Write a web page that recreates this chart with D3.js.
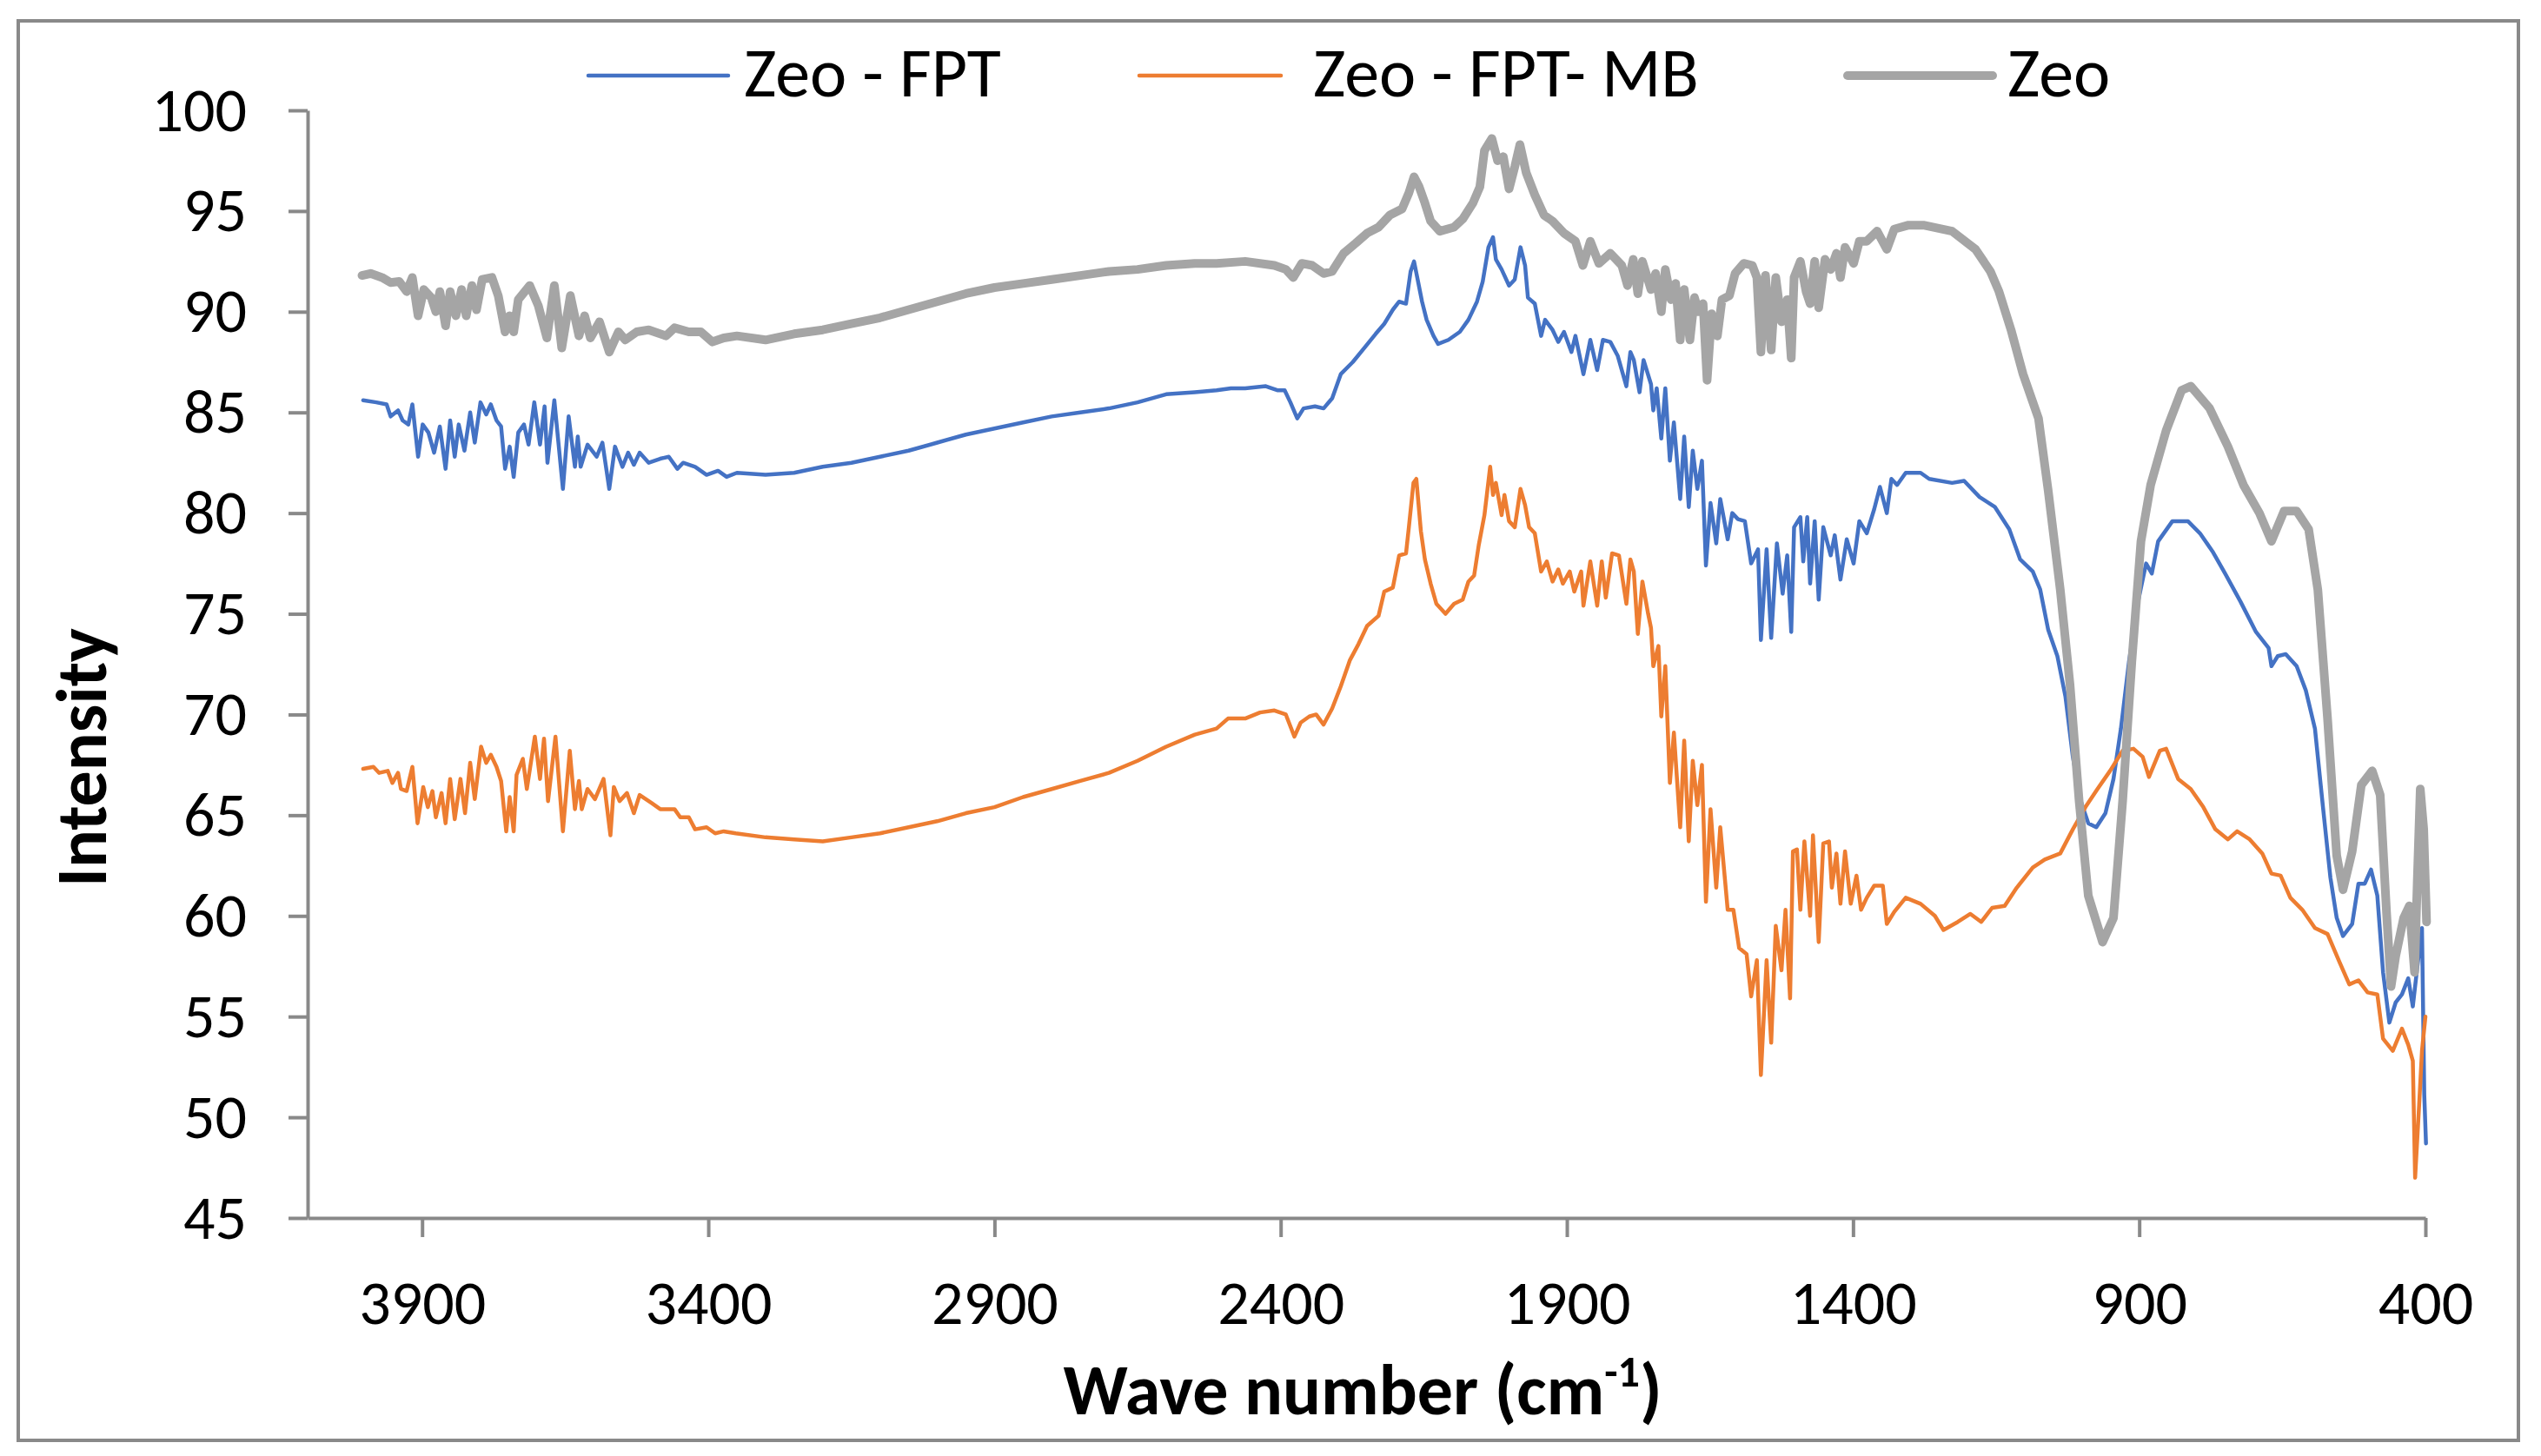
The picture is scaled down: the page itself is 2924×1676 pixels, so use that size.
<!DOCTYPE html>
<html>
<head>
<meta charset="utf-8">
<script src="https://d3js.org/d3.v7.min.js"></script>
<style>
	body { margin: 0; background: #fff; }
	text { font-family: Carlito, Calibri, Lato, sans-serif; fill: #000; }
</style>
</head>
<body>
<svg id="chart" width="2924" height="1676"></svg>
<script>
"use strict";

// Data: [wave number, intensity]

const zeoFpt = [
	[4003,85.6],[3980,85.5],[3962,85.4],[3955,84.8],[3942,85.1],[3934,84.6],[3924,84.4],[3917,85.4],[3907,82.8],[3899,84.4],
	[3889,84.0],[3879,83.0],[3869,84.3],[3859,82.2],[3851,84.6],[3843,82.8],[3836,84.4],[3826,83.1],[3816,85.0],[3808,83.5],
	[3798,85.5],[3788,84.9],[3780,85.4],[3770,84.6],[3762,84.3],[3755,82.2],[3747,83.3],[3740,81.8],[3732,84.0],[3722,84.4],
	[3714,83.4],[3704,85.5],[3694,83.4],[3686,85.3],[3681,82.5],[3669,85.6],[3654,81.2],[3644,84.8],[3633,82.3],[3628,83.8],
	[3623,82.3],[3611,83.4],[3595,82.8],[3585,83.5],[3573,81.2],[3563,83.3],[3550,82.3],[3540,83.0],[3530,82.4],[3520,83.0],
	[3504,82.5],[3484,82.7],[3469,82.8],[3454,82.2],[3444,82.5],[3423,82.3],[3403,81.9],[3383,82.1],[3368,81.8],[3350,82.0],
	[3300,81.9],[3250,82.0],[3200,82.3],[3150,82.5],[3100,82.8],[3050,83.1],[3000,83.5],[2950,83.9],[2900,84.2],[2850,84.5],
	[2800,84.8],[2750,85.0],[2700,85.2],[2650,85.5],[2600,85.9],[2550,86.0],[2512,86.1],[2487,86.2],[2462,86.2],[2426,86.3],
	[2406,86.1],[2393,86.1],[2383,85.5],[2371,84.7],[2360,85.2],[2340,85.3],[2325,85.2],[2310,85.7],[2295,86.9],[2274,87.5],
	[2254,88.2],[2234,88.9],[2219,89.4],[2204,90.1],[2193,90.5],[2181,90.4],[2173,92.0],[2167,92.5],[2160,91.5],[2153,90.5],
	[2145,89.6],[2133,88.8],[2125,88.4],[2107,88.6],[2087,89.0],[2072,89.6],[2057,90.5],[2047,91.5],[2037,93.2],[2029,93.7],
	[2024,92.6],[2014,92.1],[2001,91.3],[1991,91.6],[1981,93.2],[1973,92.3],[1968,90.7],[1956,90.4],[1945,88.8],[1938,89.6],
	[1925,89.1],[1915,88.5],[1905,89.0],[1892,88.0],[1885,88.8],[1871,86.9],[1859,88.6],[1847,87.1],[1837,88.6],[1824,88.5],
	[1811,87.8],[1796,86.3],[1789,88.0],[1783,87.6],[1773,86.0],[1766,87.6],[1753,86.4],[1749,85.1],[1743,86.2],[1735,83.7],
	[1728,86.2],[1720,82.6],[1713,84.5],[1702,80.7],[1695,83.8],[1687,80.3],[1680,83.1],[1672,81.2],[1664,82.6],[1657,77.4],
	[1649,80.5],[1639,78.5],[1632,80.7],[1619,78.7],[1611,80.0],[1601,79.7],[1589,79.6],[1578,77.5],[1566,78.2],[1561,73.7],
	[1551,78.2],[1543,73.8],[1533,78.5],[1523,76.0],[1515,77.9],[1508,74.1],[1503,79.3],[1492,79.8],[1487,77.6],[1480,79.8],
	[1475,76.5],[1467,79.6],[1460,75.7],[1452,79.3],[1439,77.9],[1432,78.9],[1422,76.7],[1411,78.7],[1399,77.5],[1389,79.6],
	[1376,79.0],[1363,80.2],[1353,81.3],[1341,80.0],[1333,81.7],[1323,81.4],[1308,82.0],[1282,82.0],[1267,81.7],[1227,81.5],
	[1206,81.6],[1179,80.8],[1152,80.3],[1127,79.2],[1108,77.7],[1086,77.1],[1073,76.2],[1059,74.2],[1043,72.9],[1029,70.9],
	[1016,67.9],[1002,65.7],[989,64.6],[975,64.4],[959,65.1],[945,66.8],[932,69.3],[918,72.6],[902,75.6],[888,77.5],
	[878,77.0],[867,78.6],[842,79.6],[815,79.6],[794,79.0],[772,78.1],[750,77.0],[723,75.6],[696,74.1],[674,73.3],
	[669,72.4],[658,72.9],[644,73.0],[625,72.4],[609,71.2],[593,69.3],[579,65.4],[566,61.9],[555,59.9],[544,59.0],
	[528,59.6],[517,61.6],[506,61.6],[495,62.3],[484,61.0],[474,57.2],[463,54.7],[452,55.7],[441,56.1],[430,56.9],
	[422,55.5],[414,57.5],[406,59.4],[402,51.1],[399,48.7]
];

const zeoFptMb = [
	[4003,67.3],[3985,67.4],[3975,67.1],[3960,67.2],[3952,66.6],[3942,67.1],[3937,66.3],[3927,66.2],[3917,67.4],[3908,64.6],
	[3898,66.4],[3890,65.4],[3882,66.2],[3876,64.9],[3866,66.1],[3859,64.6],[3851,66.8],[3843,64.8],[3833,66.8],[3825,65.1],
	[3816,67.6],[3808,65.8],[3797,68.4],[3788,67.6],[3780,68.0],[3770,67.4],[3762,66.7],[3753,64.2],[3747,65.9],[3740,64.2],
	[3735,67.0],[3724,67.8],[3717,66.3],[3703,68.9],[3694,66.8],[3687,68.8],[3680,65.7],[3667,68.9],[3654,64.2],[3642,68.2],
	[3633,65.3],[3626,66.7],[3621,65.3],[3611,66.3],[3598,65.8],[3583,66.8],[3571,64.0],[3565,66.4],[3555,65.7],[3542,66.1],
	[3530,65.1],[3520,66.0],[3499,65.6],[3484,65.3],[3459,65.3],[3449,64.9],[3434,64.9],[3423,64.3],[3403,64.4],[3388,64.1],
	[3373,64.2],[3352,64.1],[3300,63.9],[3250,63.8],[3200,63.7],[3150,63.9],[3100,64.1],[3050,64.4],[3000,64.7],[2950,65.1],
	[2900,65.4],[2850,65.9],[2800,66.3],[2750,66.7],[2700,67.1],[2650,67.7],[2600,68.4],[2550,69.0],[2512,69.3],[2492,69.8],
	[2462,69.8],[2436,70.1],[2411,70.2],[2391,70.0],[2376,68.9],[2365,69.6],[2350,69.9],[2338,70.0],[2325,69.5],[2310,70.3],
	[2295,71.4],[2279,72.7],[2264,73.5],[2249,74.4],[2229,74.9],[2219,76.1],[2204,76.3],[2193,77.9],[2181,78.0],[2176,79.3],
	[2168,81.5],[2163,81.7],[2155,79.1],[2148,77.7],[2138,76.5],[2128,75.5],[2112,75.0],[2097,75.5],[2082,75.7],[2072,76.6],
	[2062,76.9],[2054,78.4],[2044,79.9],[2034,82.3],[2029,80.9],[2024,81.5],[2014,79.9],[2009,80.9],[2001,79.6],[1991,79.3],
	[1981,81.2],[1973,80.4],[1966,79.3],[1956,79.0],[1945,77.1],[1935,77.6],[1925,76.6],[1915,77.2],[1907,76.5],[1895,77.1],
	[1887,76.1],[1875,77.1],[1871,75.4],[1859,77.6],[1847,75.4],[1839,77.6],[1832,75.8],[1821,78.0],[1809,77.9],[1796,75.5],
	[1789,77.7],[1783,77.1],[1776,74.0],[1768,76.6],[1758,75.0],[1753,74.3],[1749,72.4],[1740,73.4],[1735,69.9],[1728,72.4],
	[1720,66.6],[1713,69.1],[1702,64.4],[1695,68.7],[1687,63.7],[1680,67.7],[1672,65.5],[1664,67.5],[1657,60.7],[1649,65.3],
	[1639,61.4],[1632,64.4],[1619,60.3],[1609,60.3],[1599,58.4],[1586,58.1],[1578,56.0],[1568,57.8],[1561,52.1],[1551,57.8],
	[1543,53.7],[1535,59.5],[1525,57.3],[1518,60.3],[1510,55.9],[1505,63.2],[1498,63.3],[1492,60.3],[1485,63.7],[1475,60.0],
	[1470,64.0],[1460,58.7],[1452,63.6],[1442,63.7],[1437,61.4],[1429,63.1],[1422,60.6],[1414,63.2],[1404,60.6],[1394,62.0],
	[1386,60.3],[1376,60.9],[1363,61.5],[1348,61.5],[1341,59.6],[1328,60.2],[1308,60.9],[1282,60.6],[1257,60.0],[1242,59.3],
	[1217,59.7],[1195,60.1],[1176,59.7],[1157,60.4],[1135,60.5],[1114,61.4],[1086,62.4],[1065,62.8],[1038,63.1],[1016,64.3],
	[994,65.4],[973,66.3],[951,67.2],[929,68.2],[910,68.3],[894,67.9],[883,66.9],[864,68.2],[853,68.3],[832,66.8],
	[810,66.3],[788,65.4],[767,64.3],[745,63.8],[729,64.2],[707,63.8],[685,63.1],[669,62.1],[653,62.0],[636,60.9],
	[615,60.3],[593,59.4],[571,59.1],[550,57.7],[533,56.6],[517,56.8],[501,56.2],[484,56.1],[474,53.9],[457,53.3],
	[441,54.4],[430,53.6],[422,52.8],[418,47.0],[411,50.6],[406,53.3],[400,55.0]
];

const zeo = [
	[4005,91.8],[3990,91.9],[3970,91.7],[3955,91.45],[3940,91.5],[3927,91.0],[3917,91.7],[3907,89.8],[3897,91.1],[3884,90.7],
	[3876,90.0],[3869,91.0],[3859,89.3],[3851,91.0],[3841,89.8],[3831,91.1],[3823,89.8],[3813,91.3],[3805,90.1],[3795,91.6],
	[3778,91.7],[3767,90.8],[3755,89.0],[3747,89.8],[3740,89.0],[3732,90.6],[3712,91.3],[3697,90.3],[3682,88.7],[3669,91.3],
	[3656,88.2],[3641,90.8],[3626,88.8],[3616,89.8],[3606,88.7],[3590,89.5],[3573,88.0],[3557,89.0],[3545,88.6],[3525,89.0],
	[3504,89.1],[3474,88.8],[3459,89.2],[3434,89.0],[3413,89.0],[3393,88.5],[3373,88.7],[3350,88.8],[3300,88.6],[3250,88.9],
	[3200,89.1],[3150,89.4],[3100,89.7],[3050,90.1],[3000,90.5],[2950,90.9],[2900,91.2],[2850,91.4],[2800,91.6],[2750,91.8],
	[2700,92.0],[2650,92.1],[2600,92.3],[2550,92.4],[2512,92.4],[2462,92.5],[2411,92.3],[2391,92.1],[2378,91.7],[2363,92.4],
	[2345,92.3],[2325,91.9],[2310,92.0],[2290,92.9],[2269,93.4],[2249,93.9],[2229,94.2],[2209,94.8],[2188,95.1],[2176,95.9],
	[2167,96.7],[2158,96.2],[2148,95.4],[2138,94.5],[2122,94.0],[2097,94.2],[2082,94.6],[2064,95.4],[2052,96.2],[2044,98.0],
	[2031,98.6],[2021,97.5],[2011,97.7],[2001,96.1],[1991,97.2],[1982,98.3],[1971,96.9],[1956,95.8],[1940,94.8],[1925,94.5],
	[1905,93.9],[1885,93.5],[1872,92.3],[1859,93.5],[1844,92.4],[1824,92.9],[1804,92.3],[1794,91.3],[1784,92.6],[1776,90.9],
	[1768,92.5],[1753,91.1],[1745,91.9],[1735,90.0],[1728,92.1],[1718,90.6],[1710,91.4],[1702,88.6],[1695,91.1],[1685,88.6],
	[1677,90.7],[1670,90.0],[1662,90.4],[1655,86.6],[1647,89.9],[1637,88.8],[1629,90.6],[1616,90.8],[1606,91.9],[1591,92.4],
	[1576,92.3],[1568,91.7],[1561,88.0],[1553,91.8],[1543,88.1],[1535,91.7],[1525,89.5],[1515,90.6],[1508,87.7],[1503,91.7],
	[1492,92.5],[1482,91.0],[1475,90.4],[1467,92.5],[1460,90.2],[1449,92.6],[1439,92.1],[1429,92.9],[1422,91.7],[1414,93.2],
	[1399,92.4],[1389,93.5],[1376,93.5],[1358,94.0],[1341,93.1],[1328,94.1],[1303,94.3],[1277,94.3],[1227,94.0],[1186,93.1],
	[1160,92.0],[1145,91.0],[1124,89.1],[1103,86.9],[1076,84.7],[1059,81.1],[1038,76.2],[1021,71.5],[1005,65.7],[989,61.0],
	[964,58.7],[945,59.9],[929,65.7],[913,72.6],[897,78.6],[880,81.4],[853,84.1],[826,86.1],[810,86.3],[777,85.2],
	[745,83.3],[718,81.4],[690,80.0],[669,78.6],[647,80.1],[625,80.1],[604,79.2],[588,76.2],[571,69.8],[555,63.0],
	[544,61.3],[528,63.2],[512,66.5],[493,67.2],[479,66.0],[468,60.2],[460,56.5],[452,58.0],[438,59.9],[428,60.5],
	[419,57.2],[414,61.9],[409,66.3],[403,64.3],[398,59.7]
];

const seriesNames = ["Zeo - FPT", "Zeo - FPT- MB", "Zeo"];
const seriesColors = ["#4472C4", "#ED7D31", "#A5A5A5"];
const seriesWidths = [4.5, 4.5, 10];
const xTicks = [3900, 3400, 2900, 2400, 1900, 1400, 900, 400];
const yTicks = [45, 50, 55, 60, 65, 70, 75, 80, 85, 90, 95, 100];

// Layout

const svg = d3.select("#chart");
const axisColor = "#898989";

const plot = { left: 354, right: 2791, top: 127, bottom: 1402 };

const x = d3.scaleLinear().domain([4100, 400]).range([plot.left, plot.right]);
const y = d3.scaleLinear().domain([45, 100]).range([plot.bottom, plot.top]);

// chart border
svg.append("rect")
	.attr("x", 21)
	.attr("y", 24)
	.attr("width", 2877)
	.attr("height", 1634)
	.attr("fill", "#fff")
	.attr("stroke", axisColor)
	.attr("stroke-width", 4);

// Series lines (Zeo drawn last, on top)
const line = d3.line()
	.x(function(d) { return x(d[0]); })
	.y(function(d) { return y(d[1]); });

[zeoFpt, zeoFptMb, zeo].forEach(function(data, i) {
	svg.append("path")
		.datum(data)
		.attr("d", line)
		.attr("fill", "none")
		.attr("stroke", seriesColors[i])
		.attr("stroke-width", seriesWidths[i])
		.attr("stroke-linejoin", "round")
		.attr("stroke-linecap", "round");
});

// Axes
const yAxis = svg.append("g")
	.attr("transform", "translate(" + plot.left + ",0)")
	.call(d3.axisLeft(y).tickValues(yTicks).tickSize(22).tickSizeOuter(0).tickPadding(48));

const xAxis = svg.append("g")
	.attr("transform", "translate(0," + plot.bottom + ")")
	.call(d3.axisBottom(x).tickValues(xTicks).tickSize(22).tickSizeOuter(0).tickFormat(d3.format("d")));

[yAxis, xAxis].forEach(function(g) {
	g.select(".domain").attr("stroke", axisColor).attr("stroke-width", 4);
	g.selectAll(".tick line").attr("stroke", axisColor).attr("stroke-width", 4);
	g.selectAll(".tick text")
		.attr("fill", "#000")
		.style("font-size", "72px");
});

xAxis.selectAll(".tick text").attr("y", 122).attr("dy", null);

// Axis titles
svg.append("text")
	.attr("transform", "translate(122,872) rotate(-90)")
	.attr("text-anchor", "middle")
	.style("font-size", "82px")
	.style("font-weight", "bold")
	.text("Intensity");

const xTitle = svg.append("text")
	.attr("x", 1568)
	.attr("y", 1628)
	.attr("text-anchor", "middle")
	.style("font-size", "82px")
	.style("font-weight", "bold");
xTitle.append("tspan").text("Wave number (cm");
xTitle.append("tspan").attr("dy", -32).style("font-size", "50px").text("-1");
xTitle.append("tspan").attr("dy", 32).text(")");

// Legend
const legendX = [[677, 838, 856], [1311, 1474, 1511], [2126, 2293, 2310]];

seriesNames.forEach(function(name, i) {
	svg.append("line")
		.attr("x1", legendX[i][0])
		.attr("x2", legendX[i][1])
		.attr("y1", 87)
		.attr("y2", 87)
		.attr("stroke", seriesColors[i])
		.attr("stroke-width", seriesWidths[i])
		.attr("stroke-linecap", "round");
	svg.append("text")
		.attr("x", legendX[i][2])
		.attr("y", 111)
		.style("font-size", "80px")
		.text(name);
});
</script>
</body>
</html>
